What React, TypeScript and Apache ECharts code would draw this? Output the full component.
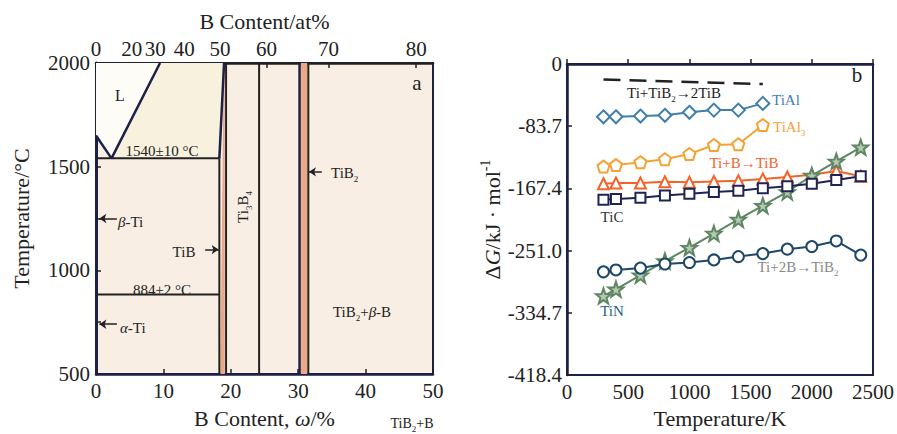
import React, { useEffect, useRef } from 'react';
import * as echarts from 'echarts';

// ---------- Panel (a): Ti–B phase diagram (wt% B vs °C) ----------
const wtTicks = { min: 0, max: 50, interval: 10 };
const tempTicks = { min: 500, max: 2000, interval: 500 };
const atTickWt = [0, 5.3, 8.8, 13.1, 18.4, 25.3, 34.5, 47.5];
const atTickLabels = ['0', '20', '30', '40', '50', '60', '70', '80'];

const liquidRegion = [[0, 2000], [9.5, 2000], [2.3, 1540], [0, 1650]];
const betaLiquidRegion = [[2.3, 1540], [9.5, 2000], [19.0, 2000], [18.3, 1540]];
const tibBand = [[18.45, 500], [19.1, 500], [19.1, 2000], [18.95, 2000]];
const tib2Band = [[30.35, 500], [31.35, 500], [31.35, 2000], [30.35, 2000]];

const liquidusLine = [[0, 1650], [2.3, 1540], [9.5, 2000]];
const tibUpperLine = [[18.3, 1540], [19.0, 2000]];
const tib2LeftLine = [[30.2, 500], [30.2, 2000]];
const eutecticLine = [[0, 1540], [18.3, 1540]];
const eutectoidLine = [[0, 884], [18.3, 884]];
const tibLeftLine = [[18.3, 500], [18.3, 1540]];
const ti3b4LeftLine = [[19.3, 500], [19.3, 2000]];
const ti3b4RightLine = [[24.2, 500], [24.2, 2000]];
const tib2RightLine = [[31.5, 500], [31.5, 2000]];

const betaTiArrow = [[3.1, 1250], [0.5, 1250]];
const alphaTiArrow = [[3.1, 740], [0.5, 740]];
const tibArrow = [[16.2, 1100], [18.2, 1100]];
const tib2Arrow = [[33.5, 1475], [31.6, 1475]];

// ---------- Panel (b): ΔG vs temperature ----------
const temps = [298, 400, 600, 800, 1000, 1200, 1400, 1600, 1800, 2000, 2200, 2400];
const dGTiAl = [-71, -71, -70, -69, -65, -62, -62, -53];
const dGTiAl3 = [-138, -136, -132, -128, -121, -109, -108, -82];
const dGTiB = [-161, -160, -160, -158.5, -159, -158, -157, -154.5, -152, -149, -144, -151];
const dGTiC = [-182.5, -181.5, -180, -177, -174.5, -172, -170.5, -167, -164.5, -161, -156, -151];
const dGTiN = [-312, -303, -284, -265, -247, -228, -209, -190.5, -172, -150, -131, -112];
const dGTiB2 = [-279.5, -277, -274.5, -269, -267, -263.5, -259, -255, -249, -245.5, -238, -257];
const dGTiTiB2 = [[298, -21], [1600, -27]];
const dGTicks = { min: -418.4, max: 0, interval: 83.68 };
const tempKTicks = { min: 0, max: 2500, interval: 500 };

const FONT = '"Liberation Serif", "Times New Roman", serif';
const NAVY = '#1d2148';
const INK = '#222222';

const PENTAGON = 'path://M0,-10 L9.51,-3.09 L5.88,8.09 L-5.88,8.09 L-9.51,-3.09 Z';
const STAR = 'path://M0,-10 L2.35,-3.24 L9.51,-3.09 L3.8,1.24 L5.88,8.09 L0,4 L-5.88,8.09 L-3.8,1.24 L-9.51,-3.09 L-2.35,-3.24 Z';

const plain = (v: number) => String(Math.round(v));

function richSet(size: number, color: string) {
  return {
    n: { fontFamily: FONT, fontSize: size, fill: color, color, lineHeight: size + 6 },
    i: { fontFamily: FONT, fontSize: size, fill: color, color, fontStyle: 'italic', lineHeight: size + 6 },
    s: { fontFamily: FONT, fontSize: Math.round(size * 0.62), fill: color, color, verticalAlign: 'bottom', lineHeight: Math.round(size * 0.62) + 2 },
    u: { fontFamily: FONT, fontSize: Math.round(size * 0.62), fill: color, color, verticalAlign: 'top', lineHeight: Math.round(size * 0.62) + 2 },
  };
}

function txt(x: number, y: number, text: string, size = 15, color = INK, extra: any = {}) {
  return {
    type: 'text',
    x,
    y,
    z: 100,
    rotation: extra.rotation || 0,
    style: {
      text,
      fontFamily: FONT,
      fontSize: size,
      fill: color,
      align: extra.align || 'center',
      verticalAlign: 'middle',
      rich: richSet(size, color),
    },
  };
}

function boundary(data: number[][], color: string, width: number, extra: any = {}) {
  return {
    type: 'line',
    xAxisIndex: 0,
    yAxisIndex: 0,
    data,
    symbol: 'none',
    silent: true,
    lineStyle: { color, width },
    z: 3,
    ...extra,
  };
}

function marked(name: string, values: number[], color: string, symbol: string, size: number, fill = '#ffffff') {
  return {
    type: 'line',
    name,
    xAxisIndex: 2,
    yAxisIndex: 1,
    data: values.map((v, i) => [temps[i], v]),
    symbol,
    symbolSize: size,
    lineStyle: { color, width: 2 },
    itemStyle: { color: fill, borderColor: color, borderWidth: 2 },
    z: 5,
  };
}

export default function App() {
  const ref = useRef<HTMLDivElement>(null);

  useEffect(() => {
    if (!ref.current) return;
    const chart = echarts.init(ref.current, undefined, { renderer: 'svg' });

    const regions = [
      { pts: liquidRegion, fill: '#fefcf7' },
      { pts: betaLiquidRegion, fill: '#f8f1dd' },
      { pts: tibBand, fill: '#eaa887' },
      { pts: tib2Band, fill: '#eaa887' },
    ];

    const axisLabel = { fontFamily: FONT, fontSize: 21, color: INK };
    const nameStyle = { fontFamily: FONT, fontSize: 22, color: INK };

    const option: any = {
      animation: false,
      backgroundColor: '#ffffff',
      grid: [
        { left: 96, top: 63, width: 337, height: 315, show: true, backgroundColor: '#f8eee3', borderColor: NAVY, borderWidth: 2 },
        { left: 567, top: 64, width: 307, height: 315, show: true, backgroundColor: '#ffffff', borderColor: NAVY, borderWidth: 2 },
      ],
      xAxis: [
        {
          type: 'value', gridIndex: 0, position: 'bottom', ...wtTicks,
          name: '{n|B Content, }{i|ω}{n|/%}', nameLocation: 'middle', nameGap: 30,
          nameTextStyle: { ...nameStyle, rich: richSet(22, INK) },
          axisLine: { show: true, lineStyle: { color: NAVY, width: 2.5 } },
          axisTick: { show: true, inside: true, length: 5, lineStyle: { color: INK, width: 1.5 } },
          axisLabel: { ...axisLabel, margin: 6, formatter: plain },
          splitLine: { show: false },
        },
        {
          type: 'value', gridIndex: 0, position: 'top', ...wtTicks,
          name: 'B Content/at%', nameLocation: 'middle', nameGap: 31, nameTextStyle: nameStyle,
          axisLine: { show: true, lineStyle: { color: INK, width: 2.5 } },
          axisTick: { show: true, inside: true, length: 5, customValues: atTickWt, lineStyle: { color: INK, width: 1.5 } },
          axisLabel: {
            ...axisLabel, margin: 4, customValues: atTickWt,
            formatter: (v: number) => {
              const i = atTickWt.findIndex((w) => Math.abs(w - v) < 1e-6);
              return i >= 0 ? atTickLabels[i] : '';
            },
          },
          splitLine: { show: false },
        },
        {
          type: 'value', gridIndex: 1, position: 'bottom', ...tempKTicks,
          name: 'Temperature/K', nameLocation: 'middle', nameGap: 31, nameTextStyle: nameStyle,
          axisLine: { show: true, lineStyle: { color: NAVY, width: 2.5 } },
          axisTick: { show: true, inside: true, length: 5, lineStyle: { color: INK, width: 1.5 } },
          axisLabel: { ...axisLabel, margin: 6, formatter: plain },
          splitLine: { show: false },
        },
      ],
      yAxis: [
        {
          type: 'value', gridIndex: 0, ...tempTicks,
          name: 'Temperature/°C', nameLocation: 'middle', nameGap: 64, nameRotate: 90, nameTextStyle: nameStyle,
          axisLine: { show: true, lineStyle: { color: NAVY, width: 3 } },
          axisTick: { show: true, inside: true, length: 5, lineStyle: { color: INK, width: 1.5 } },
          minorTick: { show: true, splitNumber: 2, length: 5, lineStyle: { color: INK, width: 1.5 } },
          axisLabel: { ...axisLabel, margin: 6, formatter: plain },
          splitLine: { show: false },
        },
        {
          type: 'value', gridIndex: 1, ...dGTicks,
          name: '{n|Δ}{i|G}{n|/kJ · mol}{u|-1}', nameLocation: 'middle', nameGap: 51, nameRotate: 90,
          nameTextStyle: { ...nameStyle, rich: richSet(22, INK) },
          axisLine: { show: true, lineStyle: { color: NAVY, width: 2.5 } },
          axisTick: { show: true, inside: true, length: 5, lineStyle: { color: INK, width: 1.5 } },
          axisLabel: {
            ...axisLabel, margin: 5,
            formatter: (v: number) => (Math.abs(v) < 1e-6 ? '0' : v.toFixed(1)),
          },
          splitLine: { show: false },
        },
      ],
      series: [
        {
          type: 'custom',
          xAxisIndex: 0,
          yAxisIndex: 0,
          silent: true,
          z: 1,
          data: regions.map((r) => r.pts[0]),
          renderItem: (params: any, api: any) => {
            const r = regions[params.dataIndex];
            return {
              type: 'polygon',
              shape: { points: r.pts.map((p) => api.coord(p)) },
              style: { fill: r.fill, stroke: 'none' },
            };
          },
        },
        boundary(liquidusLine, NAVY, 2.5),
        boundary(tibUpperLine, NAVY, 2.5),
        boundary(tib2LeftLine, NAVY, 2.5),
        boundary(eutecticLine, INK, 2),
        boundary(eutectoidLine, INK, 2),
        boundary(tibLeftLine, INK, 2),
        boundary(ti3b4LeftLine, INK, 2),
        boundary(ti3b4RightLine, INK, 2),
        boundary(tib2RightLine, INK, 2, {
          markLine: {
            silent: true,
            symbol: ['none', 'arrow'],
            symbolSize: 7,
            label: { show: false },
            lineStyle: { color: INK, width: 1.5, type: 'solid' },
            data: [betaTiArrow, alphaTiArrow, tibArrow, tib2Arrow].map((a) => [{ coord: a[0] }, { coord: a[1] }]),
          },
        }),
        {
          type: 'line',
          name: 'Ti+TiB2→2TiB',
          xAxisIndex: 2,
          yAxisIndex: 1,
          data: dGTiTiB2,
          symbol: 'none',
          lineStyle: { color: INK, width: 2.5, type: [17, 9] },
          z: 5,
        },
        marked('TiAl', dGTiAl, '#3f7fa8', 'diamond', 13),
        marked('TiAl3', dGTiAl3, '#f5a235', PENTAGON, 12),
        marked('Ti+B→TiB', dGTiB, '#f2642a', 'triangle', 11),
        marked('TiN', dGTiN, '#5e8662', STAR, 15, '#b5cab5'),
        marked('TiC', dGTiC, '#1f2552', 'rect', 10),
        marked('Ti+2B→TiB2', dGTiB2, '#1e4867', 'circle', 11),
      ],
      graphic: [
        // panel (a) annotations
        txt(120, 95, 'L', 16),
        txt(162, 151, '1540±10 °C', 15),
        txt(162, 290, '884±2 °C', 15),
        txt(118, 222, '{i|β}{n|-Ti}', 15, INK, { align: 'left' }),
        txt(120, 328, '{i|α}{n|-Ti}', 15, INK, { align: 'left' }),
        txt(184, 252, 'TiB', 15),
        txt(331, 173, '{n|TiB}{s|2}', 15, INK, { align: 'left' }),
        txt(243, 207, '{n|Ti}{s|3}{n|B}{s|4}', 15, INK, { rotation: Math.PI / 2 }),
        txt(362, 312, '{n|TiB}{s|2}{n|+}{i|β}{n|-B}', 15),
        txt(417, 83, 'a', 21),
        txt(412, 423, '{n|TiB}{s|2}{n|+B}', 14),
        // panel (b) annotations
        txt(674, 93, '{n|Ti+TiB}{s|2}{n|→2TiB}', 15),
        txt(772, 100, 'TiAl', 15, '#3f7fa8', { align: 'left' }),
        txt(773, 127, '{n|TiAl}{s|3}', 15, '#f5a235', { align: 'left' }),
        txt(744, 163, 'Ti+B→TiB', 15, '#f2642a'),
        txt(612, 217, 'TiC', 15, '#333333'),
        txt(798, 267, '{n|Ti+2B→TiB}{s|2}', 15, '#8a8a8a'),
        txt(612, 311, 'TiN', 15, '#1d5f8a'),
        txt(857, 75, 'b', 21),
      ],
    };

    chart.setOption(option);
    return () => chart.dispose();
  }, []);

  return (
    <div
      ref={ref}
      style={{ position: 'absolute', left: 0, top: 0, width: 897, height: 434, background: '#ffffff' }}
    />
  );
}
